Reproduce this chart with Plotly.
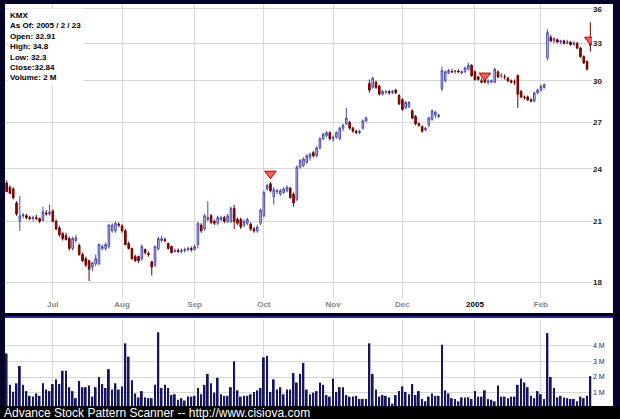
import pandas as pd
import plotly.graph_objects as go

# ---------------- data ----------------
HOLIDAYS = ["2004-06-11", "2004-07-05", "2004-09-06", "2004-11-25",
            "2004-12-24", "2005-01-17", "2005-02-21"]
dates = [d.strftime("%Y-%m-%d") for d in pd.bdate_range("2004-06-10", "2005-02-23")
         if d.strftime("%Y-%m-%d") not in HOLIDAYS]

open_ = [23.15, 22.9, 22.8, 22.0, 21.0, 21.3, 21.3, 21.2, 21.15, 21.2, 21.15, 21.05, 21.45, 21.4,
         21.55, 21.0, 20.65, 20.35, 20.25, 20.1, 19.6, 20.0, 19.75, 19.3, 19.1, 19.0, 18.7, 18.85,
         18.85, 19.6, 19.6, 19.7, 20.5, 20.5, 20.85, 20.75, 20.5, 19.85, 19.6, 19.2, 19.2, 19.1,
         19.55, 19.35, 18.95, 18.8, 19.6, 20.0, 20.05, 19.85, 19.7, 19.45, 19.5, 19.45, 19.5, 19.55,
         19.6, 19.55, 19.8, 20.8, 20.6, 21.1, 21.3, 21.0, 20.9, 21.1, 21.2, 21.0, 21.0, 21.7, 21.1,
         21.1, 20.8, 20.9, 20.85, 20.6, 20.5, 20.9, 21.3, 22.8, 23.1, 22.35, 22.65, 22.5, 22.6, 22.7,
         22.85, 22.5, 22.2, 24.1, 24.2, 24.4, 24.7, 25.0, 24.8, 25.3, 25.9, 26.1, 26.3, 25.9, 26.0,
         25.9, 26.6, 26.9, 27.0, 26.6, 26.4, 26.3, 26.6, 27.1, 29.8, 29.5, 29.9, 29.6, 29.0, 29.15,
         29.2, 29.1, 29.3, 28.9, 28.6, 28.0, 28.1, 27.8, 27.4, 26.9, 26.7, 26.5, 26.8, 27.2, 27.5,
         27.4, 29.4, 30.0, 30.6, 30.7, 30.7, 30.75, 30.6, 30.7, 30.9, 31.2, 30.7, 30.3, 30.0, 30.4,
         29.9, 29.9, 29.9, 30.7, 30.4, 30.3, 30.2, 30.0, 29.9, 30.4, 29.2, 28.8, 28.8, 28.6, 28.5,
         29.1, 29.3, 29.5, 31.8, 33.5, 33.2, 33.3, 33.1, 33.2, 33.0, 33.1, 32.9, 33.0, 32.6, 31.9,
         31.5, 32.91]
high = [23.3, 23.0, 22.9, 22.1, 22.4, 21.45, 21.4, 21.3, 21.3, 21.35, 21.2, 21.8, 21.6, 21.9,
        21.65, 21.1, 20.75, 20.45, 20.4, 20.2, 20.2, 20.3, 19.85, 19.4, 19.2, 19.05, 18.95, 19.3,
        19.85, 19.8, 19.9, 20.85, 20.9, 21.0, 20.95, 20.85, 20.6, 19.95, 19.65, 19.3, 19.25, 19.8,
        19.6, 19.45, 19.0, 19.75, 20.2, 20.25, 20.15, 19.9, 19.75, 19.6, 19.6, 19.6, 19.65, 19.7,
        19.7, 19.8, 20.95, 20.9, 21.4, 22.1, 21.4, 21.1, 21.3, 21.3, 21.3, 21.4, 21.8, 21.9, 21.2,
        21.2, 21.1, 21.2, 20.95, 20.7, 20.8, 21.7, 22.7, 23.1, 23.2, 22.9, 22.8, 22.8, 22.9, 23.0,
        22.9, 22.6, 24.2, 24.6, 24.7, 24.9, 25.0, 25.1, 25.4, 26.0, 26.3, 26.4, 26.4, 26.1, 26.4,
        26.7, 26.9, 28.0, 27.1, 26.7, 26.5, 26.5, 27.2, 27.4, 30.1, 30.3, 30.0, 29.7, 29.3, 29.3,
        29.3, 29.3, 29.4, 29.0, 28.7, 28.5, 28.5, 27.9, 27.5, 27.0, 26.8, 26.7, 27.4, 27.9, 27.8,
        27.6, 31.1, 30.8, 30.9, 30.9, 30.85, 30.9, 30.8, 31.1, 31.4, 31.3, 30.8, 30.4, 30.2, 30.5,
        30.1, 30.1, 31.0, 30.8, 30.6, 30.5, 30.3, 30.1, 30.1, 30.5, 29.3, 28.9, 28.9, 28.7, 29.2,
        29.4, 29.7, 29.8, 34.2, 33.7, 33.5, 33.4, 33.3, 33.3, 33.3, 33.2, 33.2, 33.1, 32.7, 32.0,
        31.6, 34.8]
low = [22.6, 22.5, 22.2, 21.3, 20.5, 21.15, 21.1, 21.05, 21.0, 21.05, 20.9, 21.0, 21.3, 21.3,
       20.95, 20.55, 20.2, 20.0, 20.0, 19.5, 19.5, 19.9, 19.25, 18.95, 18.7, 18.05, 18.5, 18.75,
       18.8, 19.5, 19.5, 19.6, 20.4, 20.4, 20.7, 20.4, 19.75, 19.55, 19.05, 18.95, 18.9, 19.0,
       19.3, 19.2, 18.3, 18.7, 19.5, 19.9, 19.9, 19.55, 19.35, 19.4, 19.4, 19.35, 19.4, 19.45,
       19.45, 19.5, 19.6, 20.4, 20.5, 21.0, 20.85, 20.8, 20.8, 21.0, 20.9, 20.9, 20.9, 20.6, 20.8,
       20.6, 20.7, 20.8, 20.5, 20.4, 20.4, 20.8, 21.2, 22.7, 22.6, 21.9, 22.5, 22.4, 22.5, 22.6,
       22.25, 21.8, 22.1, 24.0, 24.1, 24.3, 24.5, 24.7, 24.7, 25.2, 25.8, 26.0, 25.8, 25.7, 25.9,
       25.8, 26.4, 26.8, 26.5, 26.3, 26.2, 26.2, 26.5, 27.0, 29.1, 29.4, 29.4, 28.9, 28.9, 29.0,
       28.95, 29.0, 29.0, 28.2, 27.8, 27.9, 28.0, 27.2, 26.8, 26.7, 26.3, 26.4, 26.7, 27.1, 27.3,
       27.3, 29.2, 29.9, 30.5, 30.6, 30.55, 30.6, 30.5, 30.6, 30.8, 30.3, 30.0, 30.0, 29.8, 29.8,
       29.7, 29.8, 29.8, 30.2, 30.2, 30.1, 29.9, 29.8, 29.7, 28.0, 28.7, 28.6, 28.5, 28.4, 28.4,
       29.0, 29.2, 29.4, 31.6, 33.1, 33.0, 33.0, 32.9, 32.9, 32.9, 32.8, 32.8, 32.5, 31.8, 31.3,
       30.8, 32.3]
close = [22.65, 22.55, 22.3, 21.4, 21.3, 21.35, 21.2, 21.15, 21.2, 21.15, 21.0, 21.5, 21.4, 21.5,
         21.0, 20.6, 20.3, 20.1, 20.05, 19.6, 20.1, 20.15, 19.3, 19.0, 18.8, 18.6, 18.9, 19.1,
         19.8, 19.7, 19.8, 20.8, 20.8, 20.9, 20.8, 20.5, 19.8, 19.6, 19.1, 19.0, 19.0, 19.7,
         19.4, 19.3, 18.7, 19.7, 20.1, 20.1, 20.0, 19.6, 19.4, 19.5, 19.45, 19.5, 19.55, 19.6,
         19.55, 19.7, 20.9, 20.5, 21.3, 21.2, 20.95, 20.9, 21.2, 21.2, 21.0, 21.3, 21.7, 21.0, 20.9,
         20.7, 21.0, 21.1, 20.6, 20.5, 20.7, 21.6, 22.6, 23.0, 22.7, 22.75, 22.7, 22.7, 22.8, 22.9,
         22.3, 22.0, 24.1, 24.5, 24.6, 24.8, 24.9, 24.8, 25.3, 25.9, 26.2, 26.3, 25.9, 26.0, 26.3,
         26.6, 26.8, 27.3, 26.6, 26.4, 26.3, 26.4, 27.1, 27.3, 29.3, 30.2, 29.5, 29.0, 29.2, 29.2,
         29.1, 29.2, 29.1, 28.3, 27.9, 28.4, 28.4, 27.3, 26.9, 26.8, 26.4, 26.6, 27.3, 27.8, 27.7,
         27.5, 30.8, 30.7, 30.8, 30.7, 30.75, 30.7, 30.7, 31.0, 31.2, 30.4, 30.1, 30.1, 29.9, 29.9,
         30.0, 30.0, 30.9, 30.3, 30.4, 30.3, 30.0, 29.9, 29.9, 29.0, 28.8, 28.75, 28.6, 28.5, 29.1,
         29.3, 29.6, 29.7, 33.9, 33.2, 33.4, 33.1, 33.2, 33.0, 33.1, 32.9, 33.0, 32.6, 31.9, 31.4,
         30.9, 32.84]
volume_m = [3.5, 1.5, 1.06, 1.6, 2.7, 1.5, 1.1, 0.8, 0.75, 0.95, 0.8, 1.6, 1.2, 1.1, 1.55, 1.85,
            1.55, 2.4, 2.4, 1.35, 1.1, 0.65, 1.75, 1.35, 1.35, 1.45, 0.75, 1.35, 2.0, 1.55, 1.3,
            2.5, 1.2, 1.6, 1.2, 1.4, 4.15, 3.3, 1.8, 0.95, 0.7, 1.1, 0.7, 0.65, 0.65, 1.5, 4.85,
            1.3, 1.5, 1.3, 0.85, 0.9, 0.55, 0.65, 0.5, 0.75, 0.75, 0.8, 1.3, 0.9, 1.5, 2.2, 1.6,
            1.0, 1.95, 0.9, 0.8, 0.8, 1.35, 3.0, 1.15, 0.75, 0.8, 0.8, 0.9, 1.05, 1.15, 1.3, 3.25,
            3.35, 1.05, 1.85, 1.2, 1.35, 0.9, 1.2, 1.2, 2.25, 1.65, 2.2, 2.9, 1.2, 0.9, 1.0, 1.1,
            1.65, 1.5, 0.85, 0.75, 1.9, 1.05, 1.35, 1.35, 0.85, 0.75, 0.75, 0.8, 0.6, 0.6, 0.6,
            4.15, 2.2, 1.2, 0.75, 0.85, 0.8, 0.7, 0.3, 0.85, 1.1, 1.4, 1.05, 0.9, 1.55, 0.85, 1.1,
            0.6, 0.45, 0.75, 0.95, 0.8, 0.8, 4.05, 1.15, 0.95, 0.65, 0.6, 0.45, 0.7, 0.7, 0.7, 0.6,
            1.1, 0.75, 0.75, 1.15, 0.6, 0.55, 0.45, 1.45, 0.75, 0.75, 0.65, 0.75, 0.75, 1.5, 1.9,
            1.65, 1.35, 0.8, 0.65, 1.1, 0.9, 0.6, 4.8, 2.0, 1.3, 0.7, 0.8, 0.7, 0.65, 0.6, 0.6,
            0.45, 0.75, 0.65, 0.8, 2.05]

signal_idx = [80, 145, 177]
signal_y = [23.7, 30.4, 33.3]

month_ticks = ["2004-07-01", "2004-08-02", "2004-09-01", "2004-10-01", "2004-11-01",
               "2004-12-01", "2005-01-03", "2005-02-01"]
month_labels = ["Jul", "Aug", "Sep", "Oct", "Nov", "Dec", "2005", "Feb"]
price_ticks = [18, 21, 24, 27, 30, 33, 36]
vol_ticks = [1, 2, 3, 4]
vol_labels = ["1 M", "2 M", "3 M", "4 M"]

info_lines = ["KMX", "As Of: 2005 / 2 / 23", "Open: 32.91", "High: 34.8", "Low: 32.3",
              "Close:32.84", "Volume: 2 M"]
footer = "Advance Stock Pattern Scanner -- http://www.cisiova.com"

# ---------------- geometry helpers (pixels -> paper) ----------------
W, H = 620, 419
L, R = 5, 28
PW = W - L - R


def px(x):
    return (x - L) / PW


def py(y):
    return (H - y) / H


GRID = "#d6d6d6"
BG = "#05052a"

tick_text = [("<span style='color:#000000'><b>%s</b></span>" % t) if t == "2005"
             else ("<b>%s</b>" % t) for t in month_labels]

fig = go.Figure()
fig.add_trace(go.Candlestick(
    x=dates, open=open_, high=high, low=low, close=close,
    xaxis="x", yaxis="y", whiskerwidth=0, showlegend=False, hoverinfo="skip",
    increasing=dict(line=dict(color="#4a4aa8", width=1), fillcolor="#d4d4f4"),
    decreasing=dict(line=dict(color="#6e0000", width=1), fillcolor="#8a1212"),
))
fig.add_trace(go.Scatter(
    x=[dates[i] for i in signal_idx], y=signal_y, mode="markers", xaxis="x", yaxis="y",
    marker=dict(symbol="triangle-down", size=10, color="#ff5a5a",
                line=dict(color="#b00000", width=1)),
    showlegend=False, hoverinfo="skip",
))
fig.add_trace(go.Bar(
    x=dates, y=volume_m, xaxis="x2", yaxis="y2", showlegend=False, hoverinfo="skip",
    marker=dict(color="#16165e", line=dict(width=0)),
))

fig.update_layout(
    width=W, height=H,
    margin=dict(l=L, r=R, t=0, b=0, pad=0, autoexpand=False),
    paper_bgcolor=BG, plot_bgcolor="#ffffff",
    bargap=0.45, boxgap=0.3,
    showlegend=False,
    xaxis=dict(type="category", domain=[0, 1], anchor="y", range=[-0.5, len(dates) - 0.5],
               tickmode="array", tickvals=month_ticks, ticktext=tick_text,
               showgrid=True, gridcolor=GRID, gridwidth=1, zeroline=False, showline=False,
               ticks="", tickfont=dict(family="Liberation Sans, Arial", size=8, color="#858585"),
               rangeslider=dict(visible=False)),
    yaxis=dict(type="log", domain=[py(298), py(4)], anchor="x", side="right",
               range=[1.2377, 1.5618], tickmode="array", tickvals=price_ticks,
               ticktext=["<b>%d</b>" % v for v in price_ticks],
               showgrid=True, gridcolor=GRID, gridwidth=1, zeroline=False, showline=False,
               ticks="", tickfont=dict(family="Liberation Sans, Arial", size=8, color="#202020")),
    xaxis2=dict(type="category", domain=[0, 1], anchor="y2", range=[-0.5, len(dates) - 0.5],
                tickmode="array", tickvals=month_ticks, showticklabels=False,
                showgrid=True, gridcolor=GRID, gridwidth=1, zeroline=False, showline=False,
                ticks=""),
    yaxis2=dict(domain=[py(406), py(319)], anchor="x2", side="right",
                range=[0.15, 5.7], tickmode="array", tickvals=vol_ticks, ticktext=vol_labels,
                showgrid=True, gridcolor=GRID, gridwidth=1, zeroline=False, showline=False,
                ticks="", tickfont=dict(family="Liberation Sans, Arial", size=7, color="#20206a")),
)

shapes = [
    # white panels (behind)
    dict(type="rect", xref="paper", yref="paper", x0=px(5), x1=px(613), y0=py(313), y1=py(4),
         fillcolor="#ffffff", line=dict(width=0), layer="below"),
    dict(type="rect", xref="paper", yref="paper", x0=px(5), x1=px(613), y0=py(406), y1=py(318),
         fillcolor="#ffffff", line=dict(width=0), layer="below"),
    # separator band
    dict(type="rect", xref="paper", yref="paper", x0=px(0), x1=px(620), y0=py(318), y1=py(313),
         fillcolor="#00001c", line=dict(width=0), layer="above"),
    dict(type="line", xref="paper", yref="paper", x0=px(5), x1=px(613), y0=py(317), y1=py(317),
         line=dict(color="#3030c8", width=1.5), layer="above"),
    # footer strip
    dict(type="rect", xref="paper", yref="paper", x0=px(0), x1=px(620), y0=py(419), y1=py(406),
         fillcolor="#000000", line=dict(width=0), layer="above"),
]
fig.update_layout(shapes=shapes)

fig.add_annotation(
    xref="paper", yref="paper", x=px(7), y=py(8), xanchor="left", yanchor="top",
    text="<br>".join("<b>%s</b>" % s for s in info_lines), showarrow=False, align="left",
    font=dict(family="Liberation Sans, Arial", size=8, color="#000000"),
    bgcolor="#ffffff", borderpad=2,
)
fig.add_annotation(
    xref="paper", yref="paper", x=px(2), y=py(412.5), xanchor="left", yanchor="middle",
    text=footer, showarrow=False,
    font=dict(family="Liberation Sans, Arial", size=12, color="#ffffff"),
)

fig.write_html("out.html", config={"displayModeBar": False},
               post_script="document.body.style.margin='0';document.body.style.overflow='hidden';")
